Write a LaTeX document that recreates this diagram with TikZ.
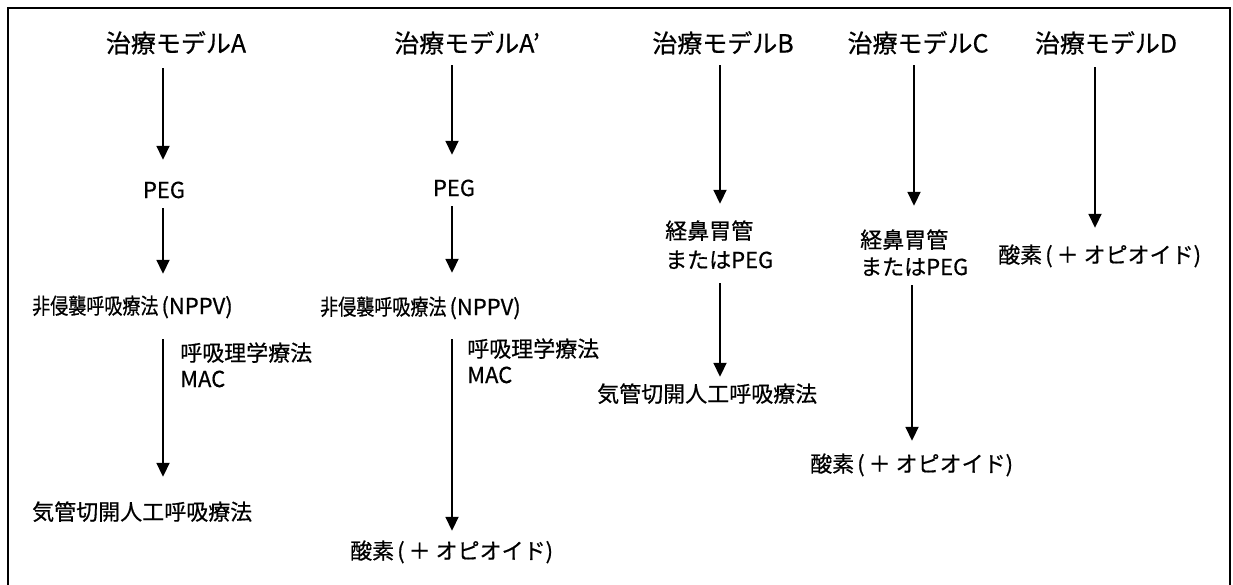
\documentclass[tikz,border=0pt]{standalone}
\usepackage{fontspec}
\usepackage{graphicx}
\setmainfont{Noto Sans CJK JP}[FakeBold=0.6]
\usetikzlibrary{arrows.meta}
\newcommand{\nppvtext}{\scalebox{0.82}[1]{非侵襲呼吸療法}\hspace{3pt}(NPPV)}
\newcommand{\sansotext}{酸素\hspace{3pt}(\hspace{4pt}＋\hspace{5pt}オピオイド)}
\begin{document}
\begin{tikzpicture}[x=1pt,y=-1pt,
  ttl/.style={inner sep=0pt, font=\fontsize{25}{25}\selectfont, text height=22pt, text depth=3pt},
  txt/.style={inner sep=0pt, font=\fontsize{22}{22}\selectfont, text height=19pt, text depth=3pt},
  arr/.style={line width=1.8pt, -{Triangle[length=14pt,width=13pt]}},
  frameline/.style={line width=1.6pt}]
\useasboundingbox (0,0) rectangle (1233,584);
\draw[frameline] (8,592) -- (8,8) -- (1230,8) -- (1230,592);

% column coordinates for arrows
\coordinate (cA) at (163,0);
\coordinate (cAp) at (452,0);
\coordinate (cB) at (720,0);
\coordinate (cC1) at (914,0);
\coordinate (cC2) at (912,0);
\coordinate (cD) at (1095,0);

% titles
\node[ttl] (tA)  at (176,43)  {治療モデルA};
\node[ttl] (tAp) at (467,43)  {治療モデルA’};
\node[ttl] (tB)  at (723,43)  {治療モデルB};
\node[ttl] (tC)  at (918,43)  {治療モデルC};
\node[ttl] (tD)  at (1106,43) {治療モデルD};

% model A
\node[txt] (pegA) at (164,190) {PEG};
\node[txt, anchor=west] (nppvA) at (32,306) {\nppvtext};
\node[txt, anchor=west] (rtA1) at (180,353) {呼吸理学療法};
\node[txt, anchor=west] (rtA2) at (180,379) {MAC};
\node[txt, anchor=west] (kikanA) at (32,512) {気管切開人工呼吸療法};

% model A'
\node[txt] (pegAp) at (454,188) {PEG};
\node[txt, anchor=west] (nppvAp) at (320,307) {\nppvtext};
\node[txt, anchor=west] (rtAp1) at (467,349) {呼吸理学療法};
\node[txt, anchor=west] (rtAp2) at (467,375) {MAC};
\node[txt, anchor=west] (sanAp) at (350,551) {\sansotext};

% model B
\node[txt, anchor=west] (keiB1) at (665,231) {経鼻胃管};
\node[txt, anchor=west] (keiB2) at (665,260) {またはPEG};
\node[txt, anchor=west] (kikanB) at (597,394) {気管切開人工呼吸療法};

% model C
\node[txt, anchor=west] (keiC1) at (860,240) {経鼻胃管};
\node[txt, anchor=west] (keiC2) at (860,267) {またはPEG};
\node[txt, anchor=west] (sanC) at (810,464) {\sansotext};

% model D
\node[txt, anchor=west] (sanD) at (998,255) {\sansotext};

% arrows A
\draw[arr, shorten <=12.5pt, shorten >=19pt] (tA.south -| cA) -- (pegA.north -| cA);
\draw[arr, shorten <=7pt, shorten >=21pt] (pegA.south -| cA) -- (nppvA.north -| cA);
\draw[arr, shorten <=22pt, shorten >=24pt] (nppvA.south -| cA) -- (kikanA.north -| cA);
% arrows A'
\draw[arr, shorten <=9.5pt, shorten >=22pt] (tAp.south -| cAp) -- (pegAp.north -| cAp);
\draw[arr, shorten <=7pt, shorten >=23pt] (pegAp.south -| cAp) -- (nppvAp.north -| cAp);
\draw[arr, shorten <=21pt, shorten >=9pt] (nppvAp.south -| cAp) -- (sanAp.north -| cAp);
% arrows B
\draw[arr, shorten <=9.5pt, shorten >=16pt] (tB.south -| cB) -- (keiB1.north -| cB);
\draw[arr, shorten <=12pt, shorten >=6pt] (keiB2.south -| cB) -- (kikanB.north -| cB);
% arrows C
\draw[arr, shorten <=9.5pt, shorten >=23pt] (tC.south -| cC1) -- (keiC1.north -| cC1);
\draw[arr, shorten <=7pt, shorten >=12pt] (keiC2.south -| cC2) -- (sanC.north -| cC2);
% arrow D
\draw[arr, shorten <=11.5pt, shorten >=16pt] (tD.south -| cD) -- (sanD.north -| cD);
\end{tikzpicture}
\end{document}
